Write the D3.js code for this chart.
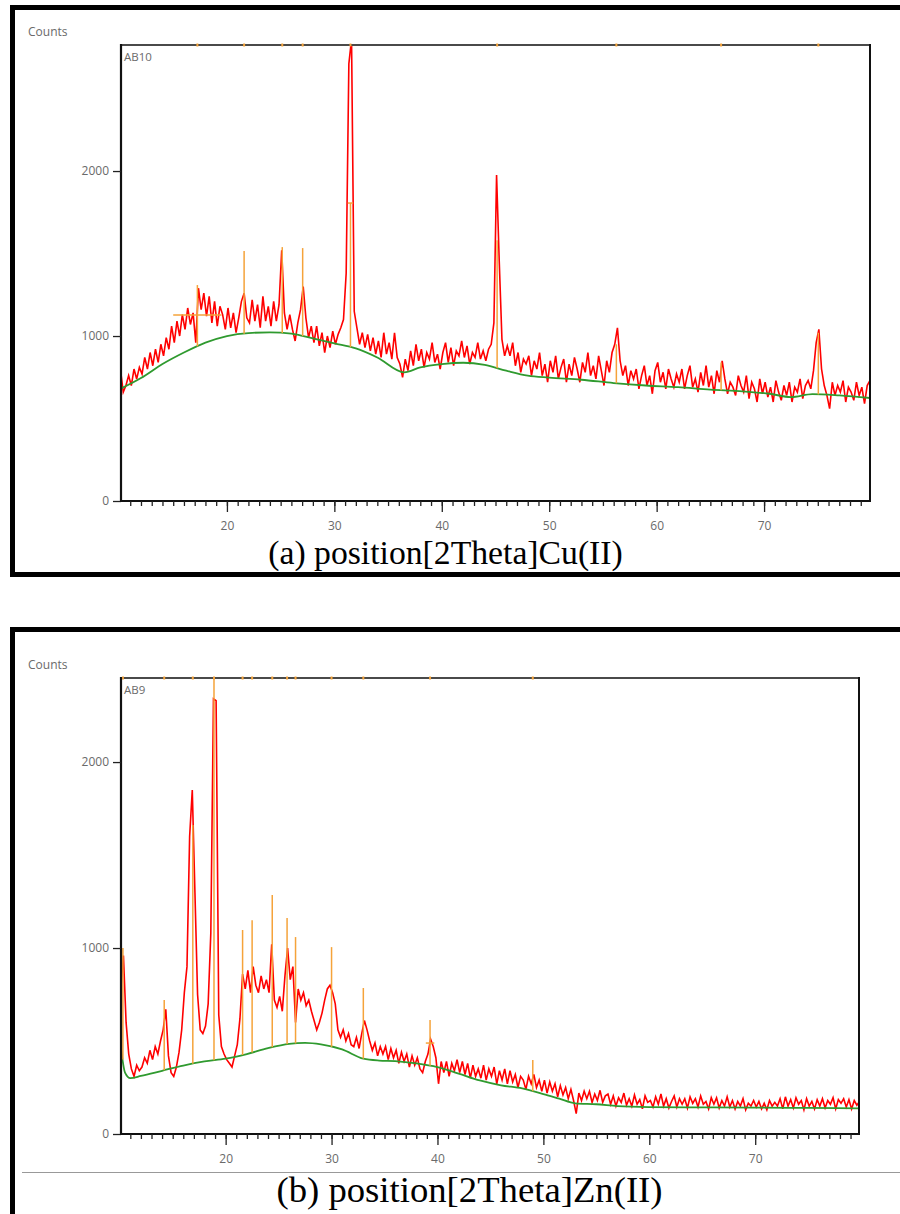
<!DOCTYPE html>
<html><head><meta charset="utf-8">
<script src="https://cdn.jsdelivr.net/npm/d3@7"></script>
<style>
html,body{margin:0;padding:0;background:#fff;}
svg{display:block;}
</style></head>
<body>
<script>
// ---------------- DATA ----------------
// scan grid: start 10.1 deg, step 0.25 deg, 280 points
const scanStart = 10.1, scanStep = 0.25;

// (a) Cu(II) complex, sample AB10
const cuCounts = [
 790,660,700,760,700,800,740,810,
 770,870,800,900,820,920,840,950,
 880,990,920,1060,960,1090,1000,1130,
 1040,1170,1070,1140,960,1290,1160,1260,
 1120,1240,1080,1210,1060,1180,1130,1040,
 1170,1050,1140,1020,1110,1210,1260,1110,
 1080,1220,1090,1190,1050,1240,1090,1180,
 1060,1210,1090,1190,1520,1140,1040,1130,
 1040,970,1080,1160,1300,1110,990,1060,
 960,1060,940,1020,900,1000,930,1030,
 950,1010,1050,1100,1380,2650,2800,1150,
 1050,950,1020,930,1010,910,990,890,
 970,870,1020,890,960,860,1020,870,
 830,750,860,790,910,820,950,850,
 920,810,900,860,960,840,890,800,
 900,960,840,930,820,910,880,970,
 870,940,830,900,870,960,860,910,
 850,920,950,1080,1976,1450,980,880,
 940,880,960,820,900,780,860,830,
 880,760,850,800,900,760,830,720,
 850,780,880,740,810,860,720,830,
 760,870,800,720,840,780,900,760,
 820,740,880,790,700,850,780,900,
 950,1050,850,760,820,700,790,740,
 800,680,760,820,700,760,650,790,
 840,720,780,680,800,740,690,770,
 720,800,680,760,820,690,740,660,
 780,700,820,690,760,650,790,720,
 850,740,650,720,690,640,760,700,
 660,760,620,720,680,600,740,650,
 720,630,690,600,730,660,610,700,
 640,720,600,690,660,740,620,700,
 730,680,790,960,1040,800,700,640,
 560,720,640,700,660,730,600,690,
 660,610,720,640,690,590,700,730
];
const cuBgTheta  = [10.1,12,14,16,18,20,22,24,26,28,30,32,34,36.5,38,40,42,44,46,48,50,53,56,59,62,65,68,70.5,72.5,74.5,77,79.9];
const cuBgCounts = [680,745,830,900,960,1000,1018,1022,1015,985,955,925,870,780,810,830,838,825,790,760,748,735,715,700,690,675,665,650,630,648,640,624];
const cuPeakTheta = [17.25,21.6,25.15,27.05,31.5,45.15,56.25,66.0,75.05];
const cuPeakTop   = [1309,1515,1539,1533,1806,1580,950,840,1020];
const cuBars = [ {theta:17.25, from:15.0, to:19.5, counts:1127}, {theta:31.5, from:31.25, to:31.75, counts:1806} ];

// (b) Zn(II) complex, sample AB9
const znCounts = [
 780,960,600,430,350,310,370,340,
 360,410,380,450,400,470,430,500,
 560,670,420,330,310,360,440,560,
 760,900,1600,1849,1300,750,560,540,
 580,700,1080,2340,2330,640,470,430,
 400,380,360,420,480,620,860,780,
 880,760,900,800,760,850,780,830,
 760,1020,720,680,740,660,850,1000,
 830,900,600,780,720,760,690,720,
 660,610,560,600,650,720,780,800,
 760,700,560,520,560,500,540,480,
 470,520,460,540,610,560,500,450,
 490,420,470,430,470,400,460,410,
 450,380,440,390,430,360,420,370,
 410,350,330,390,430,510,470,410,
 270,390,330,390,310,380,340,400,
 330,390,320,380,300,370,310,350,
 300,370,290,350,310,360,270,340,
 290,350,270,340,280,320,250,310,
 290,240,310,270,320,250,290,230,
 290,220,280,230,270,200,260,210,
 250,190,240,180,110,220,180,230,
 190,230,170,215,180,235,170,205,
 215,160,205,150,195,170,220,155,
 190,150,210,160,185,135,205,170,
 180,145,200,160,215,150,190,140,
 175,205,145,190,160,190,140,200,
 165,190,145,205,160,175,135,195,
 160,195,140,180,150,200,145,180,
 135,175,150,190,130,165,150,180,
 145,175,135,165,130,180,150,170,
 150,190,135,200,150,185,140,195,
 160,180,130,190,150,175,135,185,
 150,190,140,180,160,195,135,185,
 165,190,145,185,135,180,155,175
];
const znBgTheta  = [10.1,10.5,11,12,14,16,18,20,22,24,26,27.5,29,31,33,34.5,36,38,40,42,44,46,48,50,51.5,53,55,57,60,65,70,75,79.8];
const znBgCounts = [470,330,300,312,340,368,390,405,430,462,485,490,482,455,405,395,392,380,360,325,288,262,245,215,190,165,160,150,145,143,142,140,138];
const znPeakTheta = [10.3,14.2,16.9,18.9,21.6,22.5,24.4,25.8,26.6,30.0,33.0,39.3,49.0];
const znPeakTop   = [1000,720,1661,2460,1097,1150,1285,1161,1059,1005,785,613,398];
const znBars = [ {theta:39.3, from:38.9, to:39.7, counts:489} ];

const yTickValues = [0,1000,2000];
const xTickValues = [20,30,40,50,60,70];
const xMinorValues = d3.range(11,80);

// ---------------- DRAW ----------------
const W = 900, H = 1214;
const svg = d3.select("body").append("svg").attr("width",W).attr("height",H);

const FONT = "'Open Sans', 'DejaVu Sans', sans-serif";
const GREY = "#6a6a6a";
const RED = "#ff0000", GREEN = "#2f9a2f", ORANGE = "#f5a33a";

// outer frames
svg.append("rect").attr("x",12.5).attr("y",7.5).attr("width",W+20).attr("height",567)
  .attr("fill","none").attr("stroke","#000").attr("stroke-width",5);
svg.append("rect").attr("x",12.5).attr("y",629.5).attr("width",W+20).attr("height",H)
  .attr("fill","none").attr("stroke","#000").attr("stroke-width",5);
svg.append("line").attr("x1",22).attr("x2",W).attr("y1",1172.5).attr("y2",1172.5)
  .attr("stroke","#999").attr("stroke-width",1);

function drawPanel(cfg) {
  const {id, left, right, top, bottom, xDomain, yMax, counts, bgTheta, bgCounts, peakTheta, peakTop, bars, label, caption, capX, capY, capSize} = cfg;
  const theta = counts.map((c,i) => scanStart + scanStep*i);
  const x = d3.scaleLinear().domain(xDomain).range([left,right]);
  const y = d3.scaleLinear().domain([0,yMax]).range([bottom,top]);
  const g = svg.append("g");

  g.append("clipPath").attr("id","clip"+id).append("rect")
    .attr("x",left).attr("y",top).attr("width",right-left).attr("height",bottom-top);
  const plot = g.append("g").attr("clip-path","url(#clip"+id+")");

  // measured pattern
  plot.append("path").datum(counts.map((c,i)=>[theta[i],c]))
    .attr("fill","none").attr("stroke",RED).attr("stroke-width",1.6).attr("stroke-linejoin","miter")
    .attr("d", d3.line().x(d=>x(d[0])).y(d=>y(d[1])));

  // background
  const bgPts = bgTheta.map((t,i)=>[t,bgCounts[i]]);
  plot.append("path").datum(bgPts)
    .attr("fill","none").attr("stroke",GREEN).attr("stroke-width",1.8)
    .attr("d", d3.line().curve(d3.curveMonotoneX).x(d=>x(d[0])).y(d=>y(d[1])));

  const bgAt = t => {
    const i = Math.max(1, Math.min(bgTheta.length-1, d3.bisectLeft(bgTheta,t)));
    const t0=bgTheta[i-1], t1=bgTheta[i];
    return bgCounts[i-1] + (bgCounts[i]-bgCounts[i-1])*(t-t0)/(t1-t0);
  };

  // peak markers
  plot.selectAll(".pk").data(peakTheta).enter().append("line")
    .attr("x1",t=>x(t)).attr("x2",t=>x(t))
    .attr("y1",t=>y(bgAt(t))).attr("y2",(t,i)=>y(peakTop[i]))
    .attr("stroke",ORANGE).attr("stroke-width",1.5);
  plot.selectAll(".bar").data(bars).enter().append("line")
    .attr("x1",d=>x(d.from)).attr("x2",d=>x(d.to))
    .attr("y1",d=>y(d.counts)).attr("y2",d=>y(d.counts))
    .attr("stroke",ORANGE).attr("stroke-width",1.5);

  // frame top and right
  g.append("line").attr("x1",left).attr("x2",right).attr("y1",top).attr("y2",top)
    .attr("stroke","#4a4a4a").attr("stroke-width",2);
  g.append("line").attr("x1",right).attr("x2",right).attr("y1",top-1).attr("y2",bottom)
    .attr("stroke","#111").attr("stroke-width",2);
  // reference ticks on top border
  g.selectAll(".tt").data(peakTheta).enter().append("line")
    .attr("x1",t=>x(t)).attr("x2",t=>x(t)).attr("y1",top-1.5).attr("y2",top+1.5)
    .attr("stroke",ORANGE).attr("stroke-width",2);

  // axes
  const ya = g.append("g").attr("transform",`translate(${left},0)`)
    .call(d3.axisLeft(y).tickValues(yTickValues).tickSize(8).tickSizeOuter(0).tickPadding(4).tickFormat(d3.format("d")));
  const xa = g.append("g").attr("transform",`translate(0,${bottom})`)
    .call(d3.axisBottom(x).tickValues(xTickValues).tickSize(11).tickSizeOuter(0).tickPadding(9));
  const xm = g.append("g").attr("transform",`translate(0,${bottom})`)
    .call(d3.axisBottom(x).tickValues(xMinorValues).tickSize(5).tickSizeOuter(0).tickFormat(""));
  xm.select(".domain").remove();
  [ya,xa,xm].forEach(a=>{
    a.selectAll(".domain").attr("stroke","#111").attr("stroke-width",2.2);
    a.selectAll(".tick line").attr("stroke","#222").attr("stroke-width",1.3);
    a.selectAll("text").attr("fill",GREY).style("font-family",FONT).style("font-size","12px");
  });
  ya.select(".domain").attr("d",`M0,${top-1}V${bottom+1}`);
  xa.select(".domain").attr("d",`M${left-1},0H${right+1}`);

  g.append("text").attr("x",28).attr("y",top-9).text("Counts")
    .attr("fill",GREY).style("font-family",FONT).style("font-size","12px");
  g.append("text").attr("x",left+3).attr("y",top+16).text(label)
    .attr("fill",GREY).style("font-family",FONT).style("font-size","11.5px");

  svg.append("text").attr("x",capX).attr("y",capY).attr("text-anchor","middle")
    .text(caption).style("font-family","'Liberation Serif','Times New Roman',serif")
    .style("font-size",capSize+"px").attr("fill","#000");
}

drawPanel({id:"a", left:121, right:870, top:45, bottom:501, xDomain:[10.14,79.86], yMax:2764,
  counts:cuCounts, bgTheta:cuBgTheta, bgCounts:cuBgCounts, peakTheta:cuPeakTheta, peakTop:cuPeakTop, bars:cuBars,
  label:"AB10", caption:"(a) position[2Theta]Cu(II)", capX:445.5, capY:564, capSize:33.7});
drawPanel({id:"b", left:121, right:859, top:678, bottom:1134, xDomain:[10.12,79.8], yMax:2452,
  counts:znCounts, bgTheta:znBgTheta, bgCounts:znBgCounts, peakTheta:znPeakTheta, peakTop:znPeakTop, bars:znBars,
  label:"AB9", caption:"(b) position[2Theta]Zn(II)", capX:469.5, capY:1202, capSize:36.7});
</script>
</body></html>
